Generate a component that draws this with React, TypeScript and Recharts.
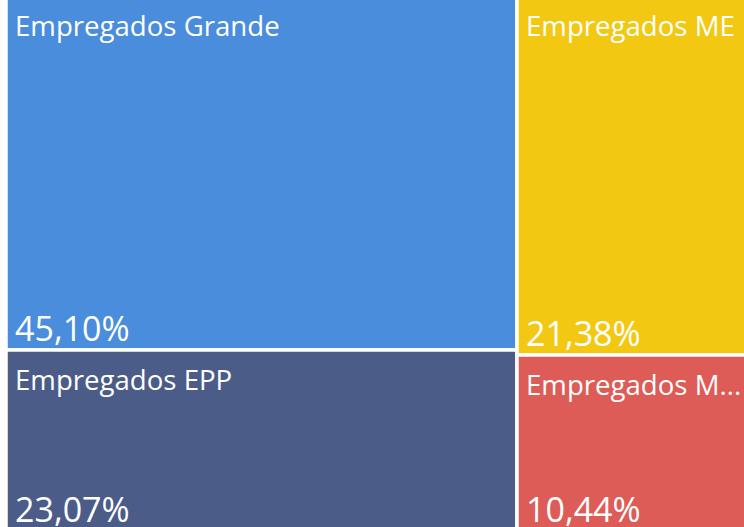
import { Treemap } from "recharts";

const names = ["Empregados Grande", "Empregados EPP", "Empregados ME", "Empregados M..."];
const shares = [45.1, 23.07, 21.38, 10.44];
const colors = ["#4A8DDC", "#4B5C88", "#F3C812", "#DD5C57"];

const data = names.map((name, i) => ({ name, value: shares[i] }));

const fmt = (v: number) => v.toFixed(2).replace(".", ",") + "%";

const Cell = (props: any) => {
  const { x, y, width, height, index, depth } = props;
  if (depth !== 1) return <g />;
  return (
    <g>
      <rect x={x} y={y} width={width} height={height} fill={colors[index]} stroke="#fff" strokeWidth={3.5} />
      <text x={x + 9} y={y + 40} fill="#fff" fontSize={27.6} fontFamily="'Open Sans', sans-serif">
        {names[index]}
      </text>
      <text x={x + 9} y={y + height - 9} fill="#fff" fontSize={34} fontWeight={400} fontFamily="'Open Sans', sans-serif">
        {fmt(shares[index])}
      </text>
    </g>
  );
};

export default function App() {
  return (
    <div style={{ position: "fixed", left: 0, top: 0, width: 744, height: 527, overflow: "hidden", background: "#fff" }}>
      <div style={{ position: "absolute", left: 6, top: -4 }}>
        <Treemap
          width={750}
          height={535}
          data={data}
          dataKey="value"
          nameKey="name"
          content={<Cell />}
          isAnimationActive={false}
        />
      </div>
    </div>
  );
}
